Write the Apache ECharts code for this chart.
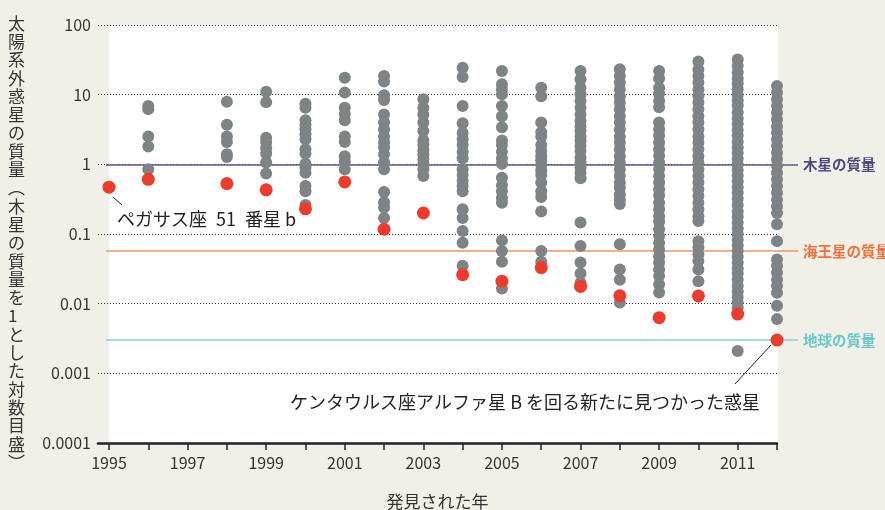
<!DOCTYPE html>
<html>
<head>
<meta charset="utf-8">
<script src="https://cdn.jsdelivr.net/npm/echarts@6.0.0/dist/echarts.min.js"></script>
<style>
  html, body { margin: 0; padding: 0; background: #f1f0e8; }
  #chart { width: 885px; height: 510px; }
</style>
</head>
<body>
<div id="chart"></div>
<script>
// discovery years with gray points (1995 and 1997 have none)
const grayYears = [1996, 1998, 1999, 2000, 2001, 2002, 2003, 2004, 2005, 2006, 2007, 2008, 2009, 2010, 2011, 2012]
// masses in Jupiter masses, one list per year above
const grayMasses = [
  [6.9, 6.2, 2.5, 1.8, 0.85],
  [7.9, 3.7, 2.5, 2.1, 1.4, 1.27],
  [11, 7.8, 2.4, 2.05, 1.7, 1.43, 1.06, 0.74],
  [7.4, 6.5, 4.3, 3.7, 3.2, 2.7, 2.3, 1.64, 1.43, 1.02, 0.9, 0.76, 0.49, 0.41, 0.26],
  [17.5, 10.7, 6.5, 5.3, 4.3, 2.5, 2.1, 1.31, 1.09, 0.85],
  [18.5, 15.5, 9.8, 8.4, 5.2, 4.0, 3.2, 2.5, 2.07, 1.75, 1.39, 1.07, 0.85, 0.40, 0.285, 0.24, 0.17],
  [8.6, 6.5, 5.2, 4.0, 3.0, 2.2, 1.89, 1.59, 1.39, 1.18, 1.0, 0.85, 0.68],
  [24.4, 17.9, 6.9, 3.9, 2.85, 2.3, 1.89, 1.52, 1.22, 0.85, 0.70, 0.58, 0.49, 0.41, 0.226, 0.17, 0.11, 0.075, 0.035],
  [21.8, 14.1, 11.9, 10.1, 6.9, 4.9, 3.4, 2.2, 1.89, 1.52, 1.22, 1.02, 0.64, 0.50, 0.41, 0.33, 0.28, 0.081, 0.057, 0.040, 0.0165],
  [12.6, 9.5, 4.0, 2.9, 2.5, 1.89, 1.55, 1.31, 1.14, 0.98, 0.82, 0.70, 0.55, 0.41, 0.34, 0.21, 0.057, 0.040],
  [21.8, 16.6, 12.6, 10.1, 8.1, 6.5, 5.2, 4.2, 3.5, 3.0, 2.5, 2.2, 1.83, 1.55, 1.25, 1.06, 0.90, 0.76, 0.63, 0.146, 0.067, 0.039, 0.027, 0.020],
  [23.1, 18.5, 14.9, 11.9, 9.5, 7.7, 6.2, 4.9, 4.0, 3.2, 2.5, 2.05, 1.64, 1.31, 1.06, 0.85, 0.68, 0.55, 0.46, 0.37, 0.31, 0.27, 0.071, 0.031, 0.022, 0.0104],
  [21.8, 17, 12.6, 10.4, 8.1, 6.6, 4.0, 3.2, 2.6, 2.05, 1.64, 1.33, 1.06, 0.86, 0.68, 0.55, 0.44, 0.36, 0.28, 0.226, 0.18, 0.15, 0.117, 0.094, 0.074, 0.060, 0.048, 0.039, 0.031, 0.025, 0.019, 0.0145],
  [30, 23, 18.5, 14.9, 11.9, 9.6, 7.7, 6.2, 4.9, 4.0, 3.2, 2.5, 2.05, 1.64, 1.31, 1.06, 0.85, 0.68, 0.55, 0.44, 0.35, 0.28, 0.226, 0.18, 0.154, 0.079, 0.064, 0.051, 0.041, 0.031, 0.021],
  [32, 26, 21, 17, 14.5, 12, 10, 8.3, 7, 5.6, 4.6, 3.8, 3.1, 2.6, 2.1, 1.75, 1.45, 1.2, 1.0, 0.83, 0.69, 0.57, 0.47, 0.39, 0.32, 0.26, 0.21, 0.175, 0.145, 0.12, 0.1, 0.083, 0.069, 0.057, 0.047, 0.039, 0.032, 0.027, 0.022, 0.018, 0.015, 0.0125, 0.0105, 0.0088, 0.0021],
  [13.3, 10.7, 8.6, 6.9, 5.5, 4.4, 3.5, 2.85, 2.3, 1.83, 1.47, 1.18, 0.95, 0.76, 0.61, 0.49, 0.39, 0.31, 0.25, 0.20, 0.138, 0.079, 0.043, 0.035, 0.028, 0.022, 0.018, 0.0144, 0.0093, 0.0060]
]

// smallest planet of each year (red)
const redYears = [1995, 1996, 1998, 1999, 2000, 2001, 2002, 2003, 2004, 2005, 2006, 2007, 2008, 2009, 2010, 2011, 2012]
const redMasses = [0.47, 0.61, 0.53, 0.43, 0.23, 0.56, 0.117, 0.20, 0.026, 0.021, 0.033, 0.0177, 0.013, 0.0063, 0.0129, 0.0071, 0.0030]

// reference masses
const refNames = ['木星の質量', '海王星の質量', '地球の質量']
const refMasses = [1, 0.057, 0.0030]
const refColors = ['#5b5a8c', '#f39466', '#80d3d2']
const refLabelColors = ['#4c4a80', '#f2703c', '#68c9c8']

// axis ticks
const tickYears = [1995, 1996, 1997, 1998, 1999, 2000, 2001, 2002, 2003, 2004, 2005, 2006, 2007, 2008, 2009, 2010, 2011, 2012]
const labelYears = [1995, 1997, 1999, 2001, 2003, 2005, 2007, 2009, 2011]
const yTickLabels = ['0.0001', '0.001', '0.01', '0.1', '1', '10', '100']

const yTitle = '太陽系外惑星の質量︵木星の質量を1とした対数目盛︶'
const font = '"Noto Sans CJK JP", "Noto Sans", sans-serif'

const grayData = []
grayYears.forEach((yr, i) => {
  grayMasses[i].forEach(m => grayData.push([yr, m]))
})
const redData = redYears.map((yr, i) => [yr, redMasses[i]])

const refLines = refMasses.map((m, i) => [
  { yAxis: m, x: 106, lineStyle: { color: refColors[i], width: 1.6, type: 'solid' },
    label: { show: true, position: 'end', distance: 5, formatter: refNames[i],
      color: refLabelColors[i], fontSize: 14.5, fontWeight: 'bold', fontFamily: font } },
  { yAxis: m, x: 798 }
])

const chart = echarts.init(document.getElementById('chart'))

const option = {
  animation: false,
  backgroundColor: '#f1f0e8',
  textStyle: { fontFamily: font },
  grid: [
    // white plotting field
    { left: 109, right: 107, top: 25, bottom: 67, outerBoundsMode: 'none', containLabel: false,
      show: true, backgroundColor: '#ffffff', borderWidth: 0 },
    // main grid
    { left: 98, right: 108, top: 25, bottom: 67, outerBoundsMode: 'none', containLabel: false }
  ],
  xAxis: [
    { gridIndex: 0, type: 'value', show: false },
    {
      gridIndex: 1,
      type: 'value',
      min: 1994.72,
      max: 2012,
      axisLine: { onZero: false, lineStyle: { color: '#222', width: 2.5 } },
      axisTick: { customValues: tickYears, length: 7, lineStyle: { color: '#222', width: 1.5 } },
      axisLabel: { customValues: labelYears, fontSize: 16, color: '#333', margin: 12, fontFamily: font,
        formatter: v => String(Math.round(v)) },
      splitLine: { show: false },
      name: '発見された年',
      nameLocation: 'middle',
      nameGap: 50,
      nameTextStyle: { fontSize: 17, color: '#333', fontFamily: font }
    }
  ],
  yAxis: [
    { gridIndex: 0, type: 'value', show: false },
    {
      gridIndex: 1,
      type: 'log',
      logBase: 10,
      min: 0.0001,
      max: 100,
      axisLine: { show: false },
      axisTick: { show: false },
      axisLabel: { fontSize: 16, color: '#333', margin: 7, fontFamily: font,
        formatter: v => yTickLabels[Math.round(Math.log10(v)) + 4] },
      splitLine: { lineStyle: { type: [1, 2], color: '#333', width: 1 } }
    }
  ],
  series: [
    {
      name: 'planets',
      type: 'scatter',
      xAxisIndex: 1,
      yAxisIndex: 1,
      symbolSize: 12,
      itemStyle: { color: '#7e8386', opacity: 1 },
      data: grayData,
      z: 3,
      markLine: {
        silent: true,
        symbol: 'none',
        z: 1,
        data: refLines
      }
    },
    {
      name: 'smallest',
      type: 'scatter',
      xAxisIndex: 1,
      yAxisIndex: 1,
      symbolSize: 13,
      itemStyle: { color: '#ee3b2b', opacity: 1 },
      data: redData,
      z: 4
    }
  ],
  graphic: [
    {
      type: 'text',
      left: 8,
      top: 14,
      style: {
        text: yTitle.split('').join('\n'),
        font: '17px ' + font,
        fill: '#333',
        lineHeight: 18.3,
        align: 'center'
      }
    },
    {
      type: 'text',
      x: 117, y: 219,
      style: { text: 'ペガサス座\u200251\u2002番星 b', font: '18px ' + font, fill: '#222', verticalAlign: 'middle' }
    },
    {
      type: 'line',
      shape: { x1: 113, y1: 197, x2: 122, y2: 205 },
      style: { stroke: '#222', lineWidth: 1 }
    },
    {
      type: 'text',
      x: 760, y: 402,
      style: { text: 'ケンタウルス座アルファ星 B を回る新たに見つかった惑星', font: '18px ' + font, fill: '#222',
        align: 'right', verticalAlign: 'middle' }
    },
    {
      type: 'line',
      shape: { x1: 735, y1: 384, x2: 771, y2: 345 },
      style: { stroke: '#222', lineWidth: 1 }
    }
  ]
}

chart.setOption(option)
</script>
</body>
</html>
